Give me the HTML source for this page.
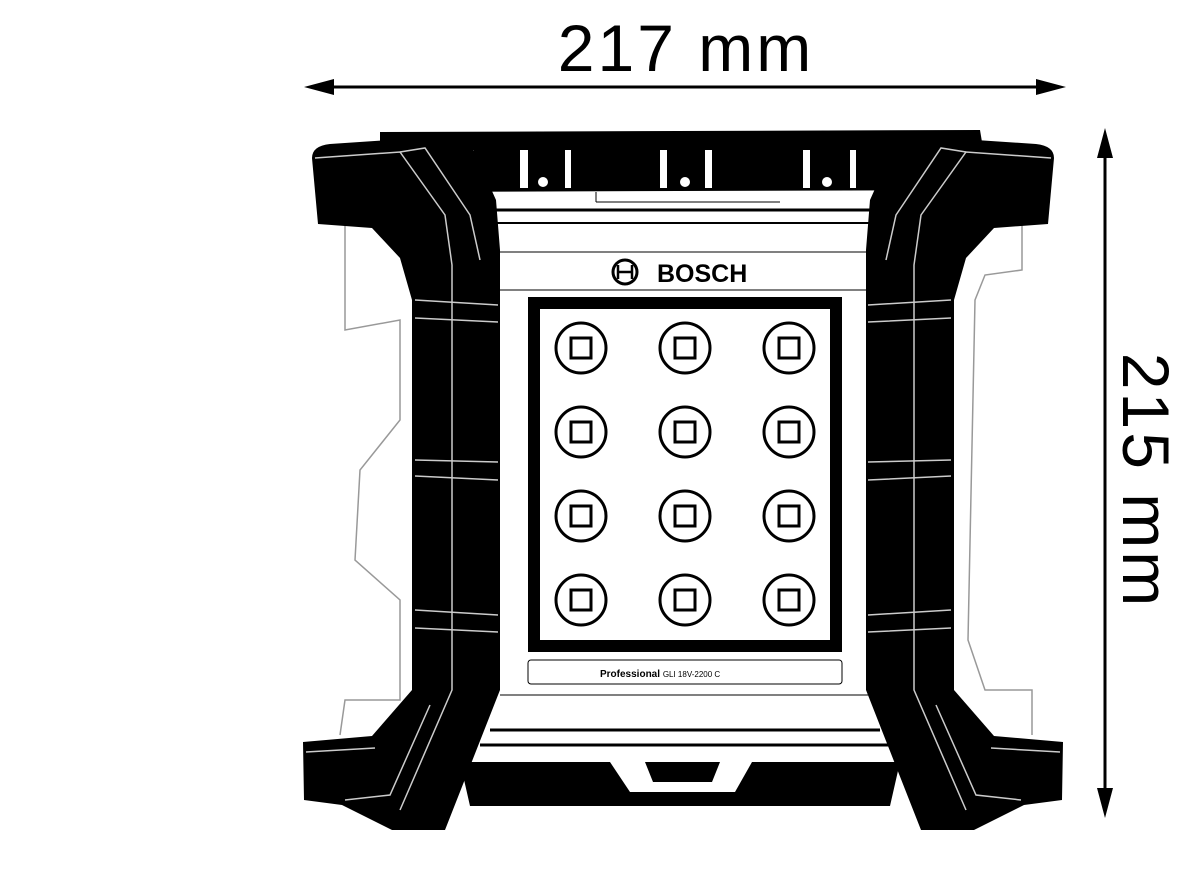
<!DOCTYPE html>
<html><head><meta charset="utf-8"><style>
html,body{margin:0;padding:0;background:#fff;}
svg{display:block;}
</style></head><body>
<svg width="1198" height="884" viewBox="0 0 1198 884" xmlns="http://www.w3.org/2000/svg" font-family="Liberation Sans, sans-serif">
<!-- dimension arrows -->
<line x1="318" y1="87" x2="1052" y2="87" stroke="#000" stroke-width="3"/>
<polygon points="304,87 334,79 334,95" fill="#000"/>
<polygon points="1066,87 1036,79 1036,95" fill="#000"/>
<text x="686" y="71" font-size="66" letter-spacing="3" text-anchor="middle" fill="#000">217 mm</text>
<line x1="1105" y1="140" x2="1105" y2="805" stroke="#000" stroke-width="3"/>
<polygon points="1105,128 1097,158 1113,158" fill="#000"/>
<polygon points="1105,818 1097,788 1113,788" fill="#000"/>
<text transform="translate(1123,481) rotate(90)" font-size="66" letter-spacing="3" text-anchor="middle" fill="#000">215 mm</text>

<!-- side light gray parts -->
<g fill="none" stroke="#999" stroke-width="1.5">
<path d="M345,222 L345,330 L400,320 L400,420 L360,470 L355,560 L400,600 L400,700 L345,700 L340,735"/>
<path d="M1022,222 L1022,270 L985,275 L975,300 L968,640 L985,690 L1032,690 L1032,735"/>
</g>

<!-- top band -->
<path d="M380,132 L980,130 L990,190 L380,192 Z" fill="#000"/>
<g fill="#fff">
<rect x="468" y="150" width="6" height="38"/>
<rect x="520" y="150" width="8" height="38"/>
<rect x="565" y="150" width="6" height="38"/>
<rect x="660" y="150" width="7" height="38"/>
<rect x="705" y="150" width="7" height="38"/>
<rect x="803" y="150" width="7" height="38"/>
<rect x="850" y="150" width="6" height="38"/>
</g>
<circle cx="543" cy="182" r="6" fill="#fff" stroke="#000" stroke-width="2"/>
<circle cx="685" cy="182" r="6" fill="#fff" stroke="#000" stroke-width="2"/>
<circle cx="827" cy="182" r="6" fill="#fff" stroke="#000" stroke-width="2"/>

<!-- central body lines -->
<g stroke="#000" fill="none">
<line x1="480" y1="210" x2="890" y2="210" stroke-width="3"/>
<line x1="490" y1="223" x2="880" y2="223" stroke-width="2"/>
<line x1="500" y1="252" x2="870" y2="252" stroke-width="1"/>
<line x1="500" y1="290" x2="870" y2="290" stroke-width="1"/>
<line x1="596" y1="192" x2="596" y2="202" stroke-width="1"/>
<line x1="596" y1="202" x2="780" y2="202" stroke-width="1"/>
<line x1="490" y1="730" x2="880" y2="730" stroke-width="3"/>
<line x1="480" y1="745" x2="890" y2="745" stroke-width="3"/>
<line x1="500" y1="695" x2="870" y2="695" stroke-width="1"/>
</g>

<!-- bottom band -->
<path d="M460,762 L610,762 L630,792 L735,792 L752,762 L900,762 L890,806 L470,806 Z" fill="#000"/>
<path d="M645,762 L720,762 L712,782 L653,782 Z" fill="#000"/>

<!-- left frame -->
<g id="frame">
<path d="M312,158 Q312,146 330,144 L420,138 L470,142 L496,200 L500,250 L500,690 L445,830 L392,830 L342,805 L304,800 L303,742 L372,736 L412,690 L412,300 L400,258 L372,228 L318,224 Z" fill="#000"/>
<g stroke="#fff" stroke-width="1.5" fill="none" opacity="0.8">
<path d="M315,158 L400,152 L445,215 L452,265 L452,690 L400,810"/>
<path d="M400,152 L425,148 L470,215 L480,260"/>
<path d="M415,300 L498,305 M415,318 L498,322 M415,460 L498,462 M415,476 L498,480 M415,610 L498,615 M415,628 L498,632"/>
<path d="M306,752 L375,748 M345,800 L390,795 L430,705"/>
</g>
</g>
<use href="#frame" transform="translate(1366,0) scale(-1,1)"/>

<!-- BOSCH logo -->
<circle cx="625" cy="272" r="12" fill="none" stroke="#000" stroke-width="3"/>
<path d="M618,265 L618,279 M632,265 L632,279 M618,272 L632,272" stroke="#000" stroke-width="2.5"/>
<text x="657" y="282" font-size="25" font-weight="bold" fill="#000">BOSCH</text>

<!-- LED panel -->
<rect x="534" y="303" width="302" height="343" fill="#fff" stroke="#000" stroke-width="12"/>
<g fill="none" stroke="#000" stroke-width="3">
<g id="row">
<circle cx="581" cy="348" r="25"/><rect x="571" y="338" width="20" height="20"/>
<circle cx="685" cy="348" r="25"/><rect x="675" y="338" width="20" height="20"/>
<circle cx="789" cy="348" r="25"/><rect x="779" y="338" width="20" height="20"/>
</g>
<use href="#row" y="84"/>
<use href="#row" y="168"/>
<use href="#row" y="252"/>
</g>
<rect x="528" y="660" width="314" height="24" rx="3" fill="#fff" stroke="#000" stroke-width="1"/>
<text x="600" y="677" font-size="10" font-weight="bold" fill="#000">Professional <tspan font-weight="normal" font-size="8">GLI 18V-2200 C</tspan></text>
</svg>
</body></html>
